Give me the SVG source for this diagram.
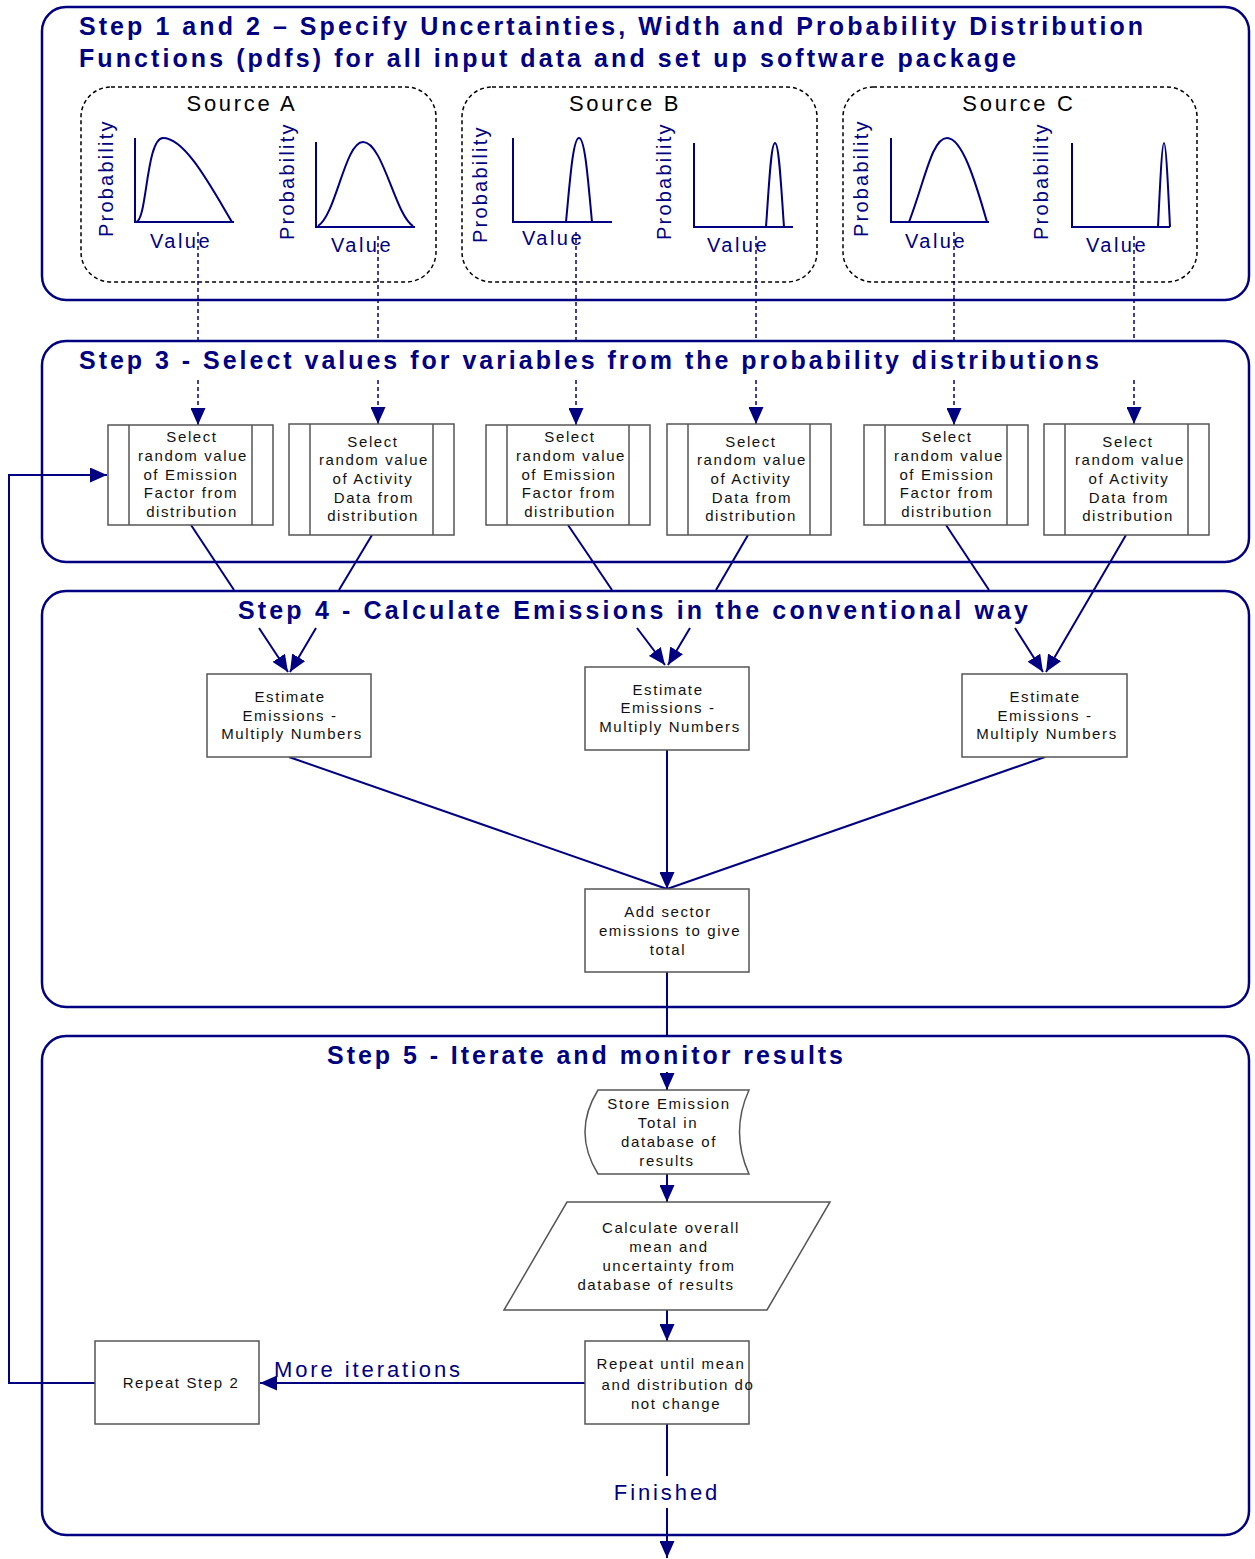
<svg xmlns="http://www.w3.org/2000/svg" width="1255" height="1559" viewBox="0 0 1255 1559">
<defs>
<style>
.frame{fill:none;stroke:#000080;stroke-width:2.5}
.src{fill:none;stroke:#000;stroke-width:1.5;stroke-dasharray:4,3}
.title{font-family:"Liberation Sans",Arial,sans-serif;font-weight:bold;font-size:25px;fill:#000080}
.srcl{font-family:"Liberation Sans",Arial,sans-serif;font-size:22px;fill:#000;text-anchor:middle;letter-spacing:2.7px}
.ax{font-family:"Liberation Sans",Arial,sans-serif;font-size:20px;fill:#000080;text-anchor:middle;letter-spacing:2.5px}
.cv{fill:none;stroke:#000080;stroke-width:2}
.box{fill:#fff;stroke:#555;stroke-width:1.5}
.bt{font-family:"Liberation Sans",Arial,sans-serif;font-size:15px;fill:#111;text-anchor:middle;letter-spacing:1.6px}
.ln{fill:none;stroke:#000080;stroke-width:2}
.dl{fill:none;stroke:#000080;stroke-width:1.5;stroke-dasharray:4,3}
.lab{font-family:"Liberation Sans",Arial,sans-serif;font-size:22px;fill:#000080;letter-spacing:2.9px}
</style>
<marker id="ah" markerUnits="userSpaceOnUse" markerWidth="17" markerHeight="15" refX="17" refY="7.5" orient="auto">
<path d="M0,0 L17,7.5 L0,15 z" fill="#000080"/>
</marker>
</defs>

<g id="frames">
<rect class="frame" x="42" y="7" width="1207" height="293" rx="24"/>
<rect class="frame" x="42" y="341" width="1207" height="221" rx="24"/>
<rect class="frame" x="42" y="591" width="1207" height="416" rx="24"/>
<rect class="frame" x="42" y="1036" width="1207" height="499" rx="24"/>
</g>

<g id="titles">
<text class="title" x="79" y="35" textLength="1064" lengthAdjust="spacing">Step 1 and 2 – Specify Uncertainties, Width and Probability Distribution</text>
<text class="title" x="79" y="67" textLength="937" lengthAdjust="spacing">Functions (pdfs) for all input data and set up software package</text>
<text class="title" x="79" y="369" textLength="1020" lengthAdjust="spacing">Step 3 - Select values for variables from the probability distributions</text>
<text class="title" x="238" y="619" textLength="790" lengthAdjust="spacing">Step 4 - Calculate Emissions in the conventional way</text>
<text class="title" x="327" y="1064" textLength="516" lengthAdjust="spacing">Step 5 - Iterate and monitor results</text>
</g>

<g id="sourceA">
<rect class="src" x="81" y="87" width="355" height="195" rx="30"/>
<text class="srcl" x="242" y="111">Source A</text>
<path class="cv" d="M135,138 V222 H234"/>
<path class="cv" d="M136,222 C147,222 146,138 163,138 C185,138 210,185 232,222"/>
<text class="ax" transform="translate(113,178) rotate(-90)" textLength="118" lengthAdjust="spacing">Probability</text>
<text class="ax" x="181" y="248">Value</text>
<path class="cv" d="M316,142 V227 H415"/>
<path class="cv" d="M318,226 C336,215 345,142 363,142 C383,142 395,215 413,226"/>
<text class="ax" transform="translate(294,181) rotate(-90)" textLength="118" lengthAdjust="spacing">Probability</text>
<text class="ax" x="362" y="252">Value</text>
</g>

<g id="sourceB">
<rect class="src" x="462" y="87" width="355" height="195" rx="30"/>
<text class="srcl" x="625" y="111">Source B</text>
<path class="cv" d="M513,138 V222 H612"/>
<path class="cv" d="M566,222 C570,180 573,138 579,138 C585,138 588,180 592,222"/>
<text class="ax" transform="translate(487,184) rotate(-90)" textLength="118" lengthAdjust="spacing">Probability</text>
<text class="ax" x="553" y="245">Value</text>
<path class="cv" d="M694,143 V227 H793"/>
<path class="cv" d="M766,227 C769,185 771,143 775,143 C779,143 781,185 784,227"/>
<text class="ax" transform="translate(671,181) rotate(-90)" textLength="118" lengthAdjust="spacing">Probability</text>
<text class="ax" x="738" y="252">Value</text>
</g>

<g id="sourceC">
<rect class="src" x="843" y="87" width="354" height="195" rx="30"/>
<text class="srcl" x="1019" y="111">Source C</text>
<path class="cv" d="M891,138 V222 H989"/>
<path class="cv" d="M909,222 C925,180 932,138 947,138 C962,138 975,180 987,222"/>
<text class="ax" transform="translate(868,178) rotate(-90)" textLength="118" lengthAdjust="spacing">Probability</text>
<text class="ax" x="936" y="248">Value</text>
<path class="cv" d="M1072,143 V227 H1170"/>
<path class="cv" d="M1158,227 C1160,185 1162,143 1164,143 C1166,143 1168,185 1170,227"/>
<text class="ax" transform="translate(1048,181) rotate(-90)" textLength="118" lengthAdjust="spacing">Probability</text>
<text class="ax" x="1117" y="252">Value</text>
</g>

<g id="connectors">
<path class="dl" d="M198,232 V340"/><path class="dl" d="M198,380 V425" marker-end="url(#ah)"/>
<path class="dl" d="M378,236 V340"/><path class="dl" d="M378,380 V424" marker-end="url(#ah)"/>
<path class="dl" d="M576,232 V340"/><path class="dl" d="M576,380 V425" marker-end="url(#ah)"/>
<path class="dl" d="M756,236 V340"/><path class="dl" d="M756,380 V424" marker-end="url(#ah)"/>
<path class="dl" d="M954,232 V340"/><path class="dl" d="M954,380 V425" marker-end="url(#ah)"/>
<path class="dl" d="M1134,236 V340"/><path class="dl" d="M1134,380 V424" marker-end="url(#ah)"/>

<path class="ln" d="M191,525 L234,590"/><path class="ln" d="M259,628 L288,672" marker-end="url(#ah)"/>
<path class="ln" d="M372,535 L339,590"/><path class="ln" d="M316,628 L290,672" marker-end="url(#ah)"/>
<path class="ln" d="M568,525 L612,590"/><path class="ln" d="M637,628 L665,665" marker-end="url(#ah)"/>
<path class="ln" d="M748,535 L716,590"/><path class="ln" d="M690,628 L668,665" marker-end="url(#ah)"/>
<path class="ln" d="M946,525 L989,590"/><path class="ln" d="M1015,628 L1043,672" marker-end="url(#ah)"/>
<path class="ln" d="M1126,535 L1046,672" marker-end="url(#ah)"/>

<path class="ln" d="M289,757 L667,889"/>
<path class="ln" d="M1045,757 L667,889"/>
<path class="ln" d="M667,750 V889" marker-end="url(#ah)"/>

<path class="ln" d="M667,972 V1036"/>
<path class="ln" d="M667,1072 V1090" marker-end="url(#ah)"/>
<path class="ln" d="M667,1174 V1202" marker-end="url(#ah)"/>
<path class="ln" d="M667,1310 V1341" marker-end="url(#ah)"/>
<path class="ln" d="M585,1383 H260" marker-end="url(#ah)"/>
<path class="ln" d="M95,1383 H9 V475 H107" marker-end="url(#ah)"/>
<path class="ln" d="M667,1424 V1476"/>
<path class="ln" d="M667,1508 V1558" marker-end="url(#ah)"/>
</g>

<g id="selA1">
<rect class="box" x="108" y="425" width="165" height="100"/>
<path class="box" d="M129,425 V525 M252,425 V525"/>
<text class="bt" x="192" y="442">Select</text>
<text class="bt" x="193" y="461">random value</text>
<text class="bt" x="191" y="480">of Emission</text>
<text class="bt" x="191" y="498">Factor from</text>
<text class="bt" x="192" y="517">distribution</text>
</g>
<g id="selA2">
<rect class="box" x="289" y="424" width="165" height="111"/>
<path class="box" d="M310,424 V535 M433,424 V535"/>
<text class="bt" x="373" y="447">Select</text>
<text class="bt" x="374" y="465">random value</text>
<text class="bt" x="373" y="484">of Activity</text>
<text class="bt" x="374" y="503">Data from</text>
<text class="bt" x="373" y="521">distribution</text>
</g>
<g id="selB1">
<rect class="box" x="486" y="425" width="164" height="100"/>
<path class="box" d="M507,425 V525 M629,425 V525"/>
<text class="bt" x="570" y="442">Select</text>
<text class="bt" x="571" y="461">random value</text>
<text class="bt" x="569" y="480">of Emission</text>
<text class="bt" x="569" y="498">Factor from</text>
<text class="bt" x="570" y="517">distribution</text>
</g>
<g id="selB2">
<rect class="box" x="667" y="424" width="164" height="111"/>
<path class="box" d="M688,424 V535 M810,424 V535"/>
<text class="bt" x="751" y="447">Select</text>
<text class="bt" x="752" y="465">random value</text>
<text class="bt" x="751" y="484">of Activity</text>
<text class="bt" x="752" y="503">Data from</text>
<text class="bt" x="751" y="521">distribution</text>
</g>
<g id="selC1">
<rect class="box" x="864" y="425" width="164" height="100"/>
<path class="box" d="M885,425 V525 M1007,425 V525"/>
<text class="bt" x="947" y="442">Select</text>
<text class="bt" x="949" y="461">random value</text>
<text class="bt" x="947" y="480">of Emission</text>
<text class="bt" x="947" y="498">Factor from</text>
<text class="bt" x="947" y="517">distribution</text>
</g>
<g id="selC2">
<rect class="box" x="1044" y="424" width="165" height="111"/>
<path class="box" d="M1065,424 V535 M1188,424 V535"/>
<text class="bt" x="1128" y="447">Select</text>
<text class="bt" x="1130" y="465">random value</text>
<text class="bt" x="1129" y="484">of Activity</text>
<text class="bt" x="1129" y="503">Data from</text>
<text class="bt" x="1128" y="521">distribution</text>
</g>

<g id="estA">
<rect class="box" x="207" y="674" width="164" height="83"/>
<text class="bt" x="290" y="702">Estimate</text>
<text class="bt" x="290" y="721">Emissions -</text>
<text class="bt" x="292" y="739">Multiply Numbers</text>
</g>
<g id="estB">
<rect class="box" x="585" y="667" width="164" height="83"/>
<text class="bt" x="668" y="695">Estimate</text>
<text class="bt" x="668" y="713">Emissions -</text>
<text class="bt" x="670" y="732">Multiply Numbers</text>
</g>
<g id="estC">
<rect class="box" x="962" y="674" width="165" height="83"/>
<text class="bt" x="1045" y="702">Estimate</text>
<text class="bt" x="1045" y="721">Emissions -</text>
<text class="bt" x="1047" y="739">Multiply Numbers</text>
</g>

<g id="addTotal">
<rect class="box" x="585" y="889" width="164" height="83"/>
<text class="bt" x="668" y="917">Add sector</text>
<text class="bt" x="670" y="936">emissions to give</text>
<text class="bt" x="668" y="955">total</text>
</g>

<g id="store">
<path class="box" d="M598,1090 H749 Q730,1132 749,1174 H598 Q572,1132 598,1090 z"/>
<text class="bt" x="669" y="1109">Store Emission</text>
<text class="bt" x="668" y="1128">Total in</text>
<text class="bt" x="669" y="1147">database of</text>
<text class="bt" x="667" y="1166">results</text>
</g>

<g id="calc">
<path class="box" d="M567,1202 H830 L767,1310 H504 z"/>
<text class="bt" x="671" y="1233">Calculate overall</text>
<text class="bt" x="669" y="1252">mean and</text>
<text class="bt" x="669" y="1271">uncertainty from</text>
<text class="bt" x="656" y="1290">database of results</text>
</g>

<g id="repeatUntil">
<rect class="box" x="585" y="1341" width="164" height="83"/>
<text class="bt" x="671" y="1369">Repeat until mean</text>
<text class="bt" x="678" y="1390">and distribution do</text>
<text class="bt" x="676" y="1409">not change</text>
</g>

<g id="repeatStep2">
<rect class="box" x="95" y="1341" width="164" height="83"/>
<text class="bt" x="181" y="1388">Repeat Step 2</text>
</g>

<g id="labels">
<text class="lab" x="274" y="1377">More iterations</text>
<text class="lab" x="667" y="1500" text-anchor="middle">Finished</text>
</g>
</svg>
